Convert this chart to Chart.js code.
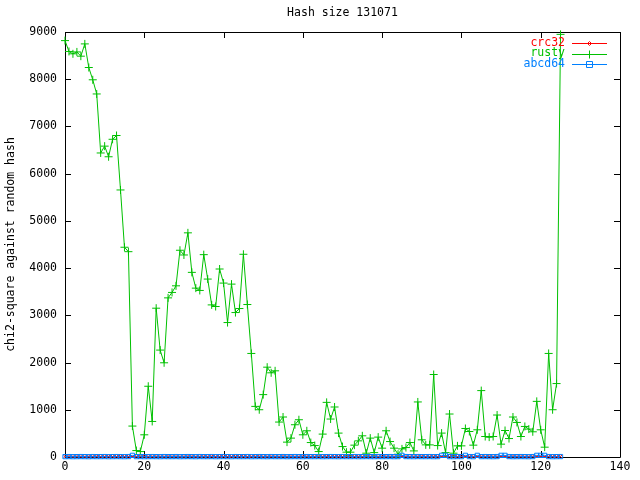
<!DOCTYPE html>
<html>
<head>
<meta charset="utf-8">
<script src="https://cdn.jsdelivr.net/npm/chart.js@4"></script>
<style>
html,body{margin:0;padding:0;background:#fff;}
#wrap{width:640px;height:480px;}
</style>
</head>
<body>
<div id="wrap"><canvas id="c" width="640" height="480"></canvas></div>
<script>
const titleText = "Hash size 131071";
const yAxisTitle = "chi2-square against random hash";
const seriesNames = ["crc32", "rusty", "abcd64"];
const xTickLabels = [0, 20, 40, 60, 80, 100, 120, 140];
const yTickLabels = [0, 1000, 2000, 3000, 4000, 5000, 6000, 7000, 8000, 9000];

const rusty = [
  8818, 8588, 8538, 8578, 8488, 8748, 8248, 7988, 7688, 6438,
  6583, 6358, 6728, 6808, 5655, 4442, 4348, 655, 136, 115,
  470, 1498, 753, 3151, 2264, 1995, 3370, 3485, 3625, 4378,
  4278, 4747, 3910, 3576, 3527, 4285, 3768, 3221, 3187, 3981,
  3683, 2847, 3661, 3059, 3144, 4293, 3229, 2193, 1072, 1001,
  1321, 1902, 1783, 1825, 740, 847, 315, 400, 683, 789,
  470, 555, 306, 242, 115, 485, 1157, 804, 1059, 506,
  221, 102, 102, 251, 342, 449, 81, 400, 93, 421,
  187, 555, 327, 187, 59, 172, 200, 306, 129, 1166,
  364, 257, 257, 1747, 242, 506, 93, 910, 81, 236,
  236, 604, 540, 251, 576, 1406, 434, 421, 434, 889,
  272, 561, 391, 847, 732, 434, 647, 591, 534, 1178,
  576, 208, 2193, 1001, 1555, 8950
];

const crc32 = [
  10, 12, 9, 11, 10, 8, 11, 10, 12, 9,
  10, 11, 9, 10, 12, 10, 11, 9, 10, 11,
  12, 9, 10, 11, 10, 9, 12, 10, 11, 9,
  10, 12, 11, 9, 10, 11, 10, 12, 9, 10,
  11, 10, 9, 12, 10, 11, 9, 10, 11, 12,
  9, 10, 11, 10, 9, 12, 10, 11, 9, 10,
  12, 11, 9, 10, 11, 10, 12, 9, 10, 11,
  10, 9, 12, 10, 11, 9, 10, 11, 12, 9,
  10, 11, 10, 9, 12, 10, 11, 9, 10, 11,
  12, 9, 10, 11, 10, 9, 12, 10, 11, 9,
  10, 12, 11, 9, 10, 11, 10, 12, 9, 10,
  11, 10, 9, 12, 10, 11, 9, 10, 11, 12,
  9, 10, 11, 10, 9, 12
];

const abcd64 = [
  8, 9, 7, 8, 9, 8, 7, 9, 8, 8,
  9, 7, 8, 9, 8, 7, 9, 35, 8, 9,
  7, 8, 9, 8, 7, 9, 8, 8, 9, 7,
  8, 9, 8, 7, 9, 8, 8, 9, 7, 8,
  9, 8, 7, 9, 8, 8, 9, 7, 8, 9,
  8, 7, 9, 8, 8, 9, 7, 8, 9, 8,
  7, 9, 8, 8, 9, 7, 8, 9, 8, 7,
  9, 8, 8, 9, 7, 8, 9, 8, 7, 9,
  8, 8, 9, 7, 8, 35, 9, 8, 7, 9,
  8, 8, 9, 7, 8, 35, 35, 8, 7, 9,
  8, 35, 9, 7, 35, 8, 9, 8, 7, 9,
  35, 35, 9, 7, 8, 9, 8, 7, 9, 35,
  35, 35, 9, 7, 8, 9
];

const colors = ["#ff0000", "#00c000", "#0080ff"];
const FONT = "DejaVu Sans Mono";
const FSIZE = 11.5;

function toXY(arr) { return arr.map((v, i) => ({ x: i, y: v })); }

const frameAndTicks = {
  id: 'frameAndTicks',
  beforeDatasetsDraw(chart) {
    const { ctx, chartArea: a, scales } = chart;
    ctx.save();
    ctx.strokeStyle = '#000';
    ctx.lineWidth = 1;
    ctx.beginPath();
    ctx.rect(Math.round(a.left) + 0.5, Math.round(a.top) + 0.5, Math.round(a.right - a.left), Math.round(a.bottom - a.top));
    ctx.stroke();
    const tl = 6;
    ctx.beginPath();
    xTickLabels.forEach(v => {
      const px = Math.round(scales.x.getPixelForValue(v)) + 0.5;
      ctx.moveTo(px, a.bottom); ctx.lineTo(px, a.bottom - tl);
      ctx.moveTo(px, a.top); ctx.lineTo(px, a.top + tl);
    });
    yTickLabels.forEach(v => {
      const py = Math.round(scales.y.getPixelForValue(v)) + 0.5;
      ctx.moveTo(a.left, py); ctx.lineTo(a.left + tl, py);
      ctx.moveTo(a.right, py); ctx.lineTo(a.right - tl, py);
    });
    ctx.stroke();
    ctx.restore();
  },
  afterDraw(chart) {
    const { ctx, chartArea: a } = chart;
    ctx.save();
    ctx.font = FSIZE + "px '" + FONT + "'";
    ctx.fillStyle = '#000';
    ctx.textAlign = 'center';
    ctx.textBaseline = 'middle';
    ctx.fillText(titleText, (a.left + a.right) / 2, 13);
    ctx.save();
    ctx.translate(11, (a.top + a.bottom) / 2);
    ctx.rotate(-Math.PI / 2);
    ctx.fillText(yAxisTitle, 0, 0);
    ctx.restore();
    // legend
    const ys = [43, 53.5, 64];
    const styles = ['diamond', 'plus', 'square'];
    seriesNames.forEach((name, i) => {
      const y = ys[i];
      ctx.fillStyle = colors[i];
      ctx.textAlign = 'right';
      ctx.fillText(name, 565, y);
      ctx.strokeStyle = colors[i];
      ctx.lineWidth = 1;
      ctx.beginPath();
      ctx.moveTo(572, Math.round(y) + 0.5);
      ctx.lineTo(607, Math.round(y) + 0.5);
      ctx.stroke();
      const mx = 589.5, my = Math.round(y) + 0.5;
      ctx.beginPath();
      if (styles[i] === 'diamond') {
        ctx.moveTo(mx - 2, my); ctx.lineTo(mx, my - 2); ctx.lineTo(mx + 2, my); ctx.lineTo(mx, my + 2); ctx.closePath();
      } else if (styles[i] === 'plus') {
        ctx.moveTo(mx - 4, my); ctx.lineTo(mx + 4, my); ctx.moveTo(mx, my - 4); ctx.lineTo(mx, my + 4);
      } else {
        ctx.rect(mx - 3, my - 3, 6, 6);
      }
      ctx.stroke();
    });
    ctx.restore();
  }
};

new Chart(document.getElementById('c'), {
  type: 'line',
  data: {
    datasets: [
      {
        label: seriesNames[0], data: toXY(crc32), borderColor: colors[0], backgroundColor: colors[0],
        borderWidth: 1, pointStyle: 'crossRot', pointRadius: 2, pointBorderWidth: 1,
        pointBackgroundColor: 'rgba(0,0,0,0)', tension: 0, clip: false, order: 2
      },
      {
        label: seriesNames[1], data: toXY(rusty), borderColor: colors[1], backgroundColor: colors[1],
        borderWidth: 1, pointStyle: 'cross', pointRadius: 4, pointBorderWidth: 1,
        tension: 0, clip: false, order: 1
      },
      {
        label: seriesNames[2], data: toXY(abcd64), borderColor: colors[2], backgroundColor: colors[2],
        borderWidth: 1, pointStyle: 'rect', pointRadius: 3, pointBorderWidth: 1,
        pointBackgroundColor: 'rgba(0,0,0,0)', tension: 0, clip: false, order: 0
      }
    ]
  },
  options: {
    responsive: false,
    animation: false,
    devicePixelRatio: 1,
    layout: { padding: { top: 32, right: 20, left: 0, bottom: 0 } },
    plugins: { legend: { display: false }, title: { display: false }, tooltip: { enabled: false } },
    scales: {
      x: {
        type: 'linear', min: 0, max: 140,
        grid: { display: false, drawTicks: false, tickLength: 0 },
        border: { display: false },
        ticks: { stepSize: 20, color: '#000', font: { family: FONT, size: FSIZE }, padding: 3, maxRotation: 0,
                 callback: v => String(v) },
        afterFit(s) { s.height = 23; }
      },
      y: {
        type: 'linear', min: 0, max: 9000,
        grid: { display: false, drawTicks: false, tickLength: 0 },
        border: { display: false },
        ticks: { stepSize: 1000, color: '#000', font: { family: FONT, size: FSIZE }, padding: 8,
                 callback: v => String(v) },
        afterFit(s) { s.width = 65; }
      }
    }
  },
  plugins: [frameAndTicks]
});
</script>
</body>
</html>
